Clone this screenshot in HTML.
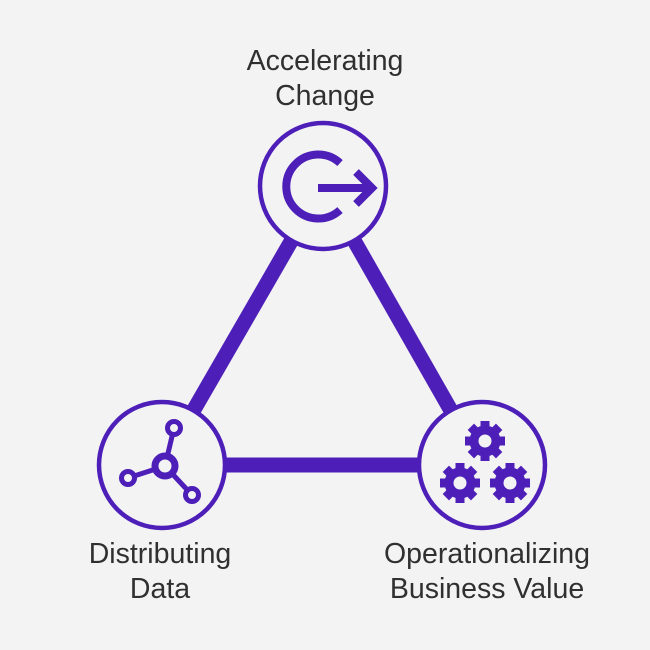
<!DOCTYPE html>
<html><head><style>
body{margin:0;background:#f3f3f4;}
svg{display:block}
text{font-family:"Liberation Sans",sans-serif;font-size:28.5px;fill:#303030;text-anchor:middle}
</style></head><body>
<svg width="650" height="650" viewBox="0 0 650 650">
<rect width="650" height="650" fill="#f3f3f4"/>
<defs>
<g id="gear">
<circle r="11" fill="none" stroke="#4d1fb8" stroke-width="9"/>
<g fill="#4d1fb8">
<rect x="-4.5" y="-20" width="9" height="40"/>
<rect x="-4.5" y="-20" width="9" height="40" transform="rotate(45)"/>
<rect x="-4.5" y="-20" width="9" height="40" transform="rotate(90)"/>
<rect x="-4.5" y="-20" width="9" height="40" transform="rotate(135)"/>
</g>
<circle r="6.5" fill="#f3f3f4"/>
</g>
</defs>
<g stroke="#4d1fb8" stroke-width="15" stroke-linecap="butt">
<line x1="323" y1="186" x2="162" y2="465"/>
<line x1="323" y1="186" x2="482" y2="465"/>
<line x1="162" y1="465" x2="482" y2="465"/>
</g>
<g fill="#f3f3f4" stroke="#4d1fb8" stroke-width="4.5">
<circle cx="323" cy="186" r="63"/>
<circle cx="162" cy="465" r="63"/>
<circle cx="482" cy="465" r="63"/>
</g>
<g fill="none" stroke="#4d1fb8" stroke-width="8">
<path d="M340 163 A32 32 0 1 0 340 210"/>
<line x1="318" y1="188" x2="372" y2="188"/>
<polyline points="356,172 372,188 356,204"/>
</g>
<g stroke="#4d1fb8" fill="#f3f3f4" stroke-width="5">
<line x1="165" y1="466" x2="174" y2="428"/>
<line x1="165" y1="466" x2="128" y2="478"/>
<line x1="165" y1="466" x2="192" y2="495"/>
<circle cx="165" cy="466" r="10" stroke-width="7"/>
<circle cx="174" cy="428" r="6.5"/>
<circle cx="128" cy="478" r="6.5"/>
<circle cx="192" cy="495" r="6.5"/>
</g>
<use href="#gear" x="485" y="441"/>
<use href="#gear" x="460" y="483"/>
<use href="#gear" x="510" y="483"/>
<text x="325" y="70">Accelerating</text>
<text x="325" y="105">Change</text>
<text x="160" y="563">Distributing</text>
<text x="160" y="598">Data</text>
<text x="487" y="563">Operationalizing</text>
<text x="487" y="598">Business Value</text>
</svg>
</body></html>
